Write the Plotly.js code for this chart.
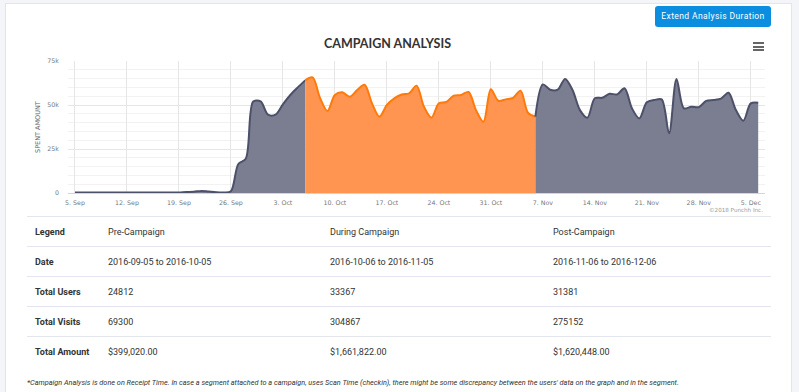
<!DOCTYPE html>
<html>
<head>
<meta charset="utf-8">
<script src="https://cdn.plot.ly/plotly-3.0.1.min.js"></script>
<style>
  html, body { margin:0; padding:0; width:799px; height:392px; overflow:hidden; background:#f4f5f9; font-family: Roboto, "Noto Sans", sans-serif; }
  #card { position:absolute; left:5px; top:3px; width:785px; height:400px; background:#fff; border-left:1px solid #e3e5ee; border-top:1px solid #e3e5ee; border-right:1px solid #e3e5ee; }
  #chart { position:absolute; left:0; top:0; width:799px; height:215px; }
  #btn { position:absolute; left:655px; top:6px; width:116px; height:21px; background:#0b8de0; border-radius:3px; color:#fff; font-size:8.5px; letter-spacing:0.4px; line-height:21px; text-align:center; font-family: Roboto, sans-serif; }
  .bar { position:absolute; left:753px; width:11px; height:2px; background:#666; }
  #tbl { position:absolute; left:27px; top:216px; width:744px; border-collapse:collapse; font-size:9px; color:#333; }
  #tbl td { height:29px; border-top:1px solid #e4e6ef; padding:0 0 0 8px; vertical-align:middle; }
  #tbl td.lab { font-weight:bold; width:65px; }
  #note { position:absolute; left:27px; top:378px; font-size:7.3px; font-style:italic; color:#333; white-space:nowrap; }
</style>
</head>
<body>
<div id="card"></div>
<div id="chart"></div>
<div id="btn">Extend Analysis Duration</div>
<div class="bar" style="top:42px"></div>
<div class="bar" style="top:45.5px"></div>
<div class="bar" style="top:49px"></div>
<table id="tbl"></table>
<div id="note"></div>
<script>
// ---- data ----
const dates = [
 '2016-09-05','2016-09-06','2016-09-07','2016-09-08','2016-09-09','2016-09-10','2016-09-11',
 '2016-09-12','2016-09-13','2016-09-14','2016-09-15','2016-09-16','2016-09-17','2016-09-18',
 '2016-09-19','2016-09-20','2016-09-21','2016-09-22','2016-09-23','2016-09-24','2016-09-25',
 '2016-09-26','2016-09-27','2016-09-28','2016-09-29','2016-09-30','2016-10-01','2016-10-02',
 '2016-10-03','2016-10-04','2016-10-05','2016-10-06','2016-10-07','2016-10-08','2016-10-09',
 '2016-10-10','2016-10-11','2016-10-12','2016-10-13','2016-10-14','2016-10-15','2016-10-16',
 '2016-10-17','2016-10-18','2016-10-19','2016-10-20','2016-10-21','2016-10-22','2016-10-23',
 '2016-10-24','2016-10-25','2016-10-26','2016-10-27','2016-10-28','2016-10-29','2016-10-30',
 '2016-10-31','2016-11-01','2016-11-02','2016-11-03','2016-11-04','2016-11-05','2016-11-06',
 '2016-11-07','2016-11-08','2016-11-09','2016-11-10','2016-11-11','2016-11-12','2016-11-13',
 '2016-11-14','2016-11-15','2016-11-16','2016-11-17','2016-11-18','2016-11-19','2016-11-20',
 '2016-11-21','2016-11-22','2016-11-23','2016-11-24','2016-11-25','2016-11-26','2016-11-27',
 '2016-11-28','2016-11-29','2016-11-30','2016-12-01','2016-12-02','2016-12-03','2016-12-04',
 '2016-12-05','2016-12-06'];
const spent = [
 250,300,280,310,260,240,300,
 320,290,270,300,310,280,300,
 350,600,700,1200,800,400,300,
 1000,16500,19500,52000,52000,44500,44500,
 50400,55700,60000,64000,65700,54000,46600,
 55700,57200,54700,58500,61500,50900,43400,
 50000,53800,56000,56600,61000,49000,42800,
 50900,51700,55300,55700,57400,47100,40500,
 58900,52400,53200,54100,58100,45600,43400,
 61700,58700,58700,64800,58500,47100,42800,
 53800,54100,56400,56000,59500,48100,42400,
 51500,52800,53200,33900,64800,48100,49000,
 48800,52300,52800,53600,57000,47100,41100,
 50900,51300];
const campaignStart = '2016-10-06';
const campaignEnd = '2016-11-06';
const xTickVals = ['2016-09-05','2016-09-12','2016-09-19','2016-09-26','2016-10-03','2016-10-10','2016-10-17','2016-10-24','2016-10-31','2016-11-07','2016-11-14','2016-11-21','2016-11-28','2016-12-05'];
const xTickText = ['5. Sep','12. Sep','19. Sep','26. Sep','3. Oct','10. Oct','17. Oct','24. Oct','31. Oct','7. Nov','14. Nov','21. Nov','28. Nov','5. Dec'];
const yTickVals = [0, 25000, 50000, 75000];
const yTickText = ['0', '25k', '50k', '75k'];

const rowLabels = ['Legend', 'Date', 'Total Users', 'Total Visits', 'Total Amount'];
const preCol = ['Pre-Campaign', '2016-09-05 to 2016-10-05', '24812', '69300', '$399,020.00'];
const duringCol = ['During Campaign', '2016-10-06 to 2016-11-05', '33367', '304867', '$1,661,822.00'];
const postCol = ['Post-Campaign', '2016-11-06 to 2016-12-06', '31381', '275152', '$1,620,448.00'];
const footnote = "*Campaign Analysis is done on Receipt Time. In case a segment attached to a campaign, uses Scan Time (checkin), there might be some discrepancy between the users' data on the graph and in the segment.";

// ---- build traces ----
function seg(test) {
  const x = [], y = [];
  dates.forEach((d, i) => { if (test(d)) { x.push(d); y.push(spent[i]); } });
  return {x, y};
}
const pre = seg(d => d <= campaignStart);
const during = seg(d => d >= campaignStart && d <= campaignEnd);
const post = seg(d => d >= campaignEnd);

const GRAY_LINE = '#4c5068', GRAY_FILL = '#7b7e91';
const OR_LINE = '#ff7a0a', OR_FILL = '#ff9550';
function tr(s, lc, fc) {
  return { x: s.x, y: s.y, type: 'scatter', mode: 'lines', fill: 'tozeroy',
    line: { color: lc, width: 2, shape: 'spline', smoothing: 0.9 }, fillcolor: fc, hoverinfo: 'skip', showlegend: false };
}
const traces = [tr(pre, GRAY_LINE, GRAY_FILL), tr(during, OR_LINE, OR_FILL), tr(post, GRAY_LINE, GRAY_FILL)];

const tickFont = { family: 'DejaVu Sans', size: 6.3, color: '#777' };
const layout = {
  width: 799, height: 215,
  margin: { l: 68, r: 34, t: 61, b: 22, pad: 0 },
  paper_bgcolor: 'rgba(0,0,0,0)', plot_bgcolor: 'rgba(0,0,0,0)',
  title: { text: 'CAMPAIGN ANALYSIS', xref: 'container', yref: 'container', x: 0.485, xanchor: 'center', y: 1 - 44/215, yanchor: 'middle',
    font: { family: 'Lato', size: 12.5, color: '#333', weight: 700 } },
  xaxis: { type: 'date', range: ['2016-09-04 01:30', '2016-12-06 22:00'], tickmode: 'array', tickvals: xTickVals, ticktext: xTickText,
    showgrid: true, gridcolor: '#e6e6e6', gridwidth: 1, zeroline: false, showline: true, linecolor: '#ccd6eb', ticks: '',
    ticklabelstandoff: 3, tickfont: tickFont, fixedrange: true },
  yaxis: { range: [0, 75000], tickmode: 'array', tickvals: yTickVals, ticktext: yTickText, showgrid: true, gridcolor: '#e6e6e6',
    minor: { tickmode: 'linear', tick0: 0, dtick: 5000, showgrid: true, gridcolor: '#f2f2f2', gridwidth: 1 },
    zeroline: false, ticks: '', ticklabelstandoff: 8, tickfont: tickFont, fixedrange: true },
  annotations: [
    { text: 'SPENT AMOUNT', xref: 'paper', yref: 'paper', x: -30/697, y: 0.5, xanchor: 'center', yanchor: 'middle', textangle: -90,
      showarrow: false, font: { family: 'DejaVu Sans', size: 6.5, color: '#666' } },
    { text: '©2018 Punchh Inc.', xref: 'paper', yref: 'paper', x: 1, y: -17/132, xanchor: 'right', yanchor: 'middle',
      showarrow: false, font: { family: 'DejaVu Sans', size: 5.6, color: '#999' } }
  ]
};
Plotly.newPlot('chart', traces, layout, { displayModeBar: false, staticPlot: true });

// ---- table ----
const tbl = document.getElementById('tbl');
rowLabels.forEach((lab, i) => {
  const r = tbl.insertRow();
  const c0 = r.insertCell(); c0.className = 'lab'; c0.textContent = lab;
  const c1 = r.insertCell(); c1.textContent = preCol[i]; c1.style.width = '214px';
  const c2 = r.insertCell(); c2.textContent = duringCol[i]; c2.style.width = '215px';
  const c3 = r.insertCell(); c3.textContent = postCol[i];
});
document.getElementById('note').textContent = footnote;
</script>
</body>
</html>
